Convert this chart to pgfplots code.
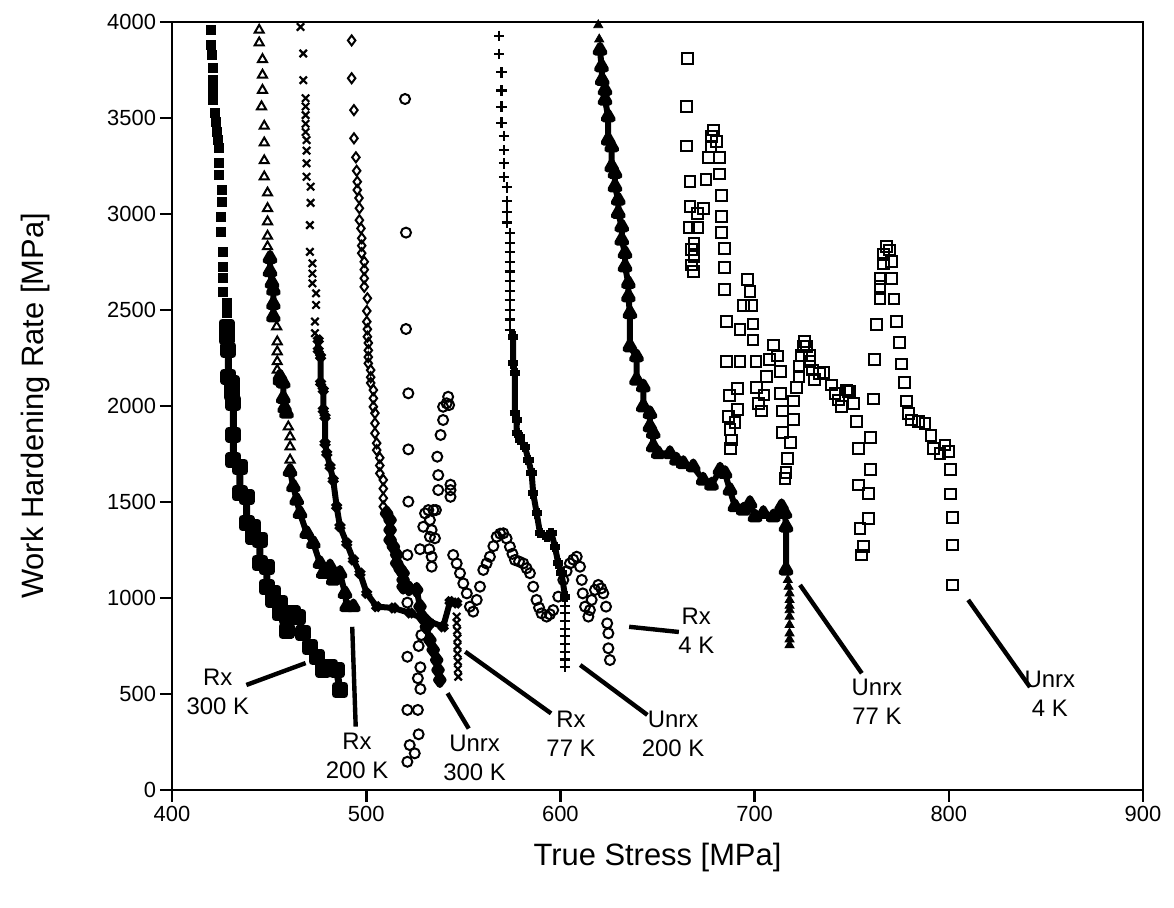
\documentclass[border=0pt]{standalone}
\usepackage{fontspec}
\setmainfont{Liberation Sans}
\usepackage{pgfplots}
\pgfplotsset{compat=1.18}
\begin{document}
\begin{tikzpicture}
\useasboundingbox (-86bp,-59bp) rectangle (501bp,395bp);
\begin{axis}[
  at={(0,0)}, anchor=south west,
  scale only axis, width=485.5bp, height=384bp,
  xmin=400, xmax=900, ymin=0, ymax=4000,
  xtick={400,500,...,900}, ytick={0,500,...,4000},
  tick align=outside, xtick pos=left, ytick pos=left,
  major tick length=6bp,
  axis line style={line width=1.3bp},
  every tick/.style={black, line width=1.3bp},
  tick label style={font=\fontsize{11}{13}\selectfont},
  yticklabel style={xshift=1.5bp},
  xticklabel style={yshift=1.5bp},
  /pgf/number format/assume math mode=true,
  /pgf/number format/1000 sep={},
  xlabel={True Stress [MPa]}, ylabel={Work Hardening Rate [MPa]},
  label style={font=\fontsize{15.5}{18}\selectfont},
  xlabel style={at={(axis description cs:0.5,-0.0885)}, anchor=center},
  ylabel style={at={(axis description cs:-0.141,0.5)}, anchor=center},
  unbounded coords=jump,
]
% ---------- Rx 300 K : filled squares
\addplot[only marks, mark=square*, mark size=2.25bp, black] coordinates {
(419.9,3961)(419.9,3880)(420.4,3828)(421,3760)(421.2,3697)(421.3,3645)(421.3,3593)(422,3525)(422.5,3480)(423,3430)(423.7,3385)(424.3,3343)(424.3,3265)(424.3,3203)(425.6,3125)(425.6,3064)(425.2,2986)(425.2,2908)(426.4,2803)(426.4,2725)(426.4,2666)(426.4,2595)(428.1,2535)(428.1,2483)};
\addplot[black, line width=3.5bp, line join=round, mark=square*, mark size=2.25bp] coordinates {
(428.1,2413)(428.1,2361)(429,2291)(429,2152)(430.7,2120)(430.7,2068)(431.6,2015)(431.6,1850)(431.6,1718)(435,1682)(435,1546)(438.4,1526)(438.4,1390)(441.9,1370)(441.9,1318)(445.3,1302)(445.3,1182)(448.8,1161)(448.8,1057)(452.2,1026)(452.2,990)(455.6,974)(455.6,922)(459,900)(459,830)(462.5,920)(465,900)(467.6,818)(471,745)(474.5,693)(477.9,625)(481.4,641)(484.8,625)(486.5,521)};
% ---------- Rx 200 K : triangles
\addplot[only marks, mark=triangle, mark size=2.6bp, line width=1bp, black] coordinates {
(444.9,3958)(444.9,3892)(446.6,3805)(446.6,3724)(446.6,3645)(446.1,3559)(447.5,3458)(447.5,3371)(447.5,3278)(447.5,3194)(449.2,3110)(449.2,3029)(449.2,2960)(449.2,2885)(449.2,2830)
(453.9,2413)(454.2,2335)(454.2,2283)(454.2,2231)(454.2,2187)
(459.9,1892)(460.8,1840)(460.8,1788)(460.8,1719)};
\addplot[black, line width=3bp, line join=round, mark=triangle*, mark size=2.6bp] coordinates {
(450.5,2770)(450.5,2700)(451.5,2640)(452.2,2604)(452.2,2530)(452.2,2465)
(453,nan)
(455.6,2152)(455.6,2135)(457.3,2120)(457.3,2040)(458,1990)(459,1963)
(460,nan)
(460.8,1660)(462.5,1580)(464.2,1510)(465.9,1441)(469.4,1337)(472.8,1285)(476.2,1181)(477.9,1129)(481.4,1163)(483,1094)(486.5,1129)(489.1,1024)(490,955)(493.4,955)};
% ---------- Rx 77 K : crosses
\addplot[only marks, mark=x, mark size=2.6bp, line width=1.1bp, black] coordinates {
(466.2,3974)(467.6,3836)(467.6,3697)(468.8,3603)(468.8,3560)(468.8,3515)(468.8,3470)(468.8,3427)(469.3,3385)(469.3,3330)(469.3,3264)(469.3,3194)(471.4,3142)(471.4,3058)(471,2942)(471,2803)(472.3,2743)(472.3,2690)(472.3,2639)(474.2,2587)(474.2,2526)(473.6,2440)(473.6,2379)
(546.6,903)(546.6,870)(546.8,830)(547,790)(547,750)(547,710)(547.2,670)(547.2,630)(547.4,590)};
\addplot[black, line width=3bp, line join=round, mark=x, mark size=2.6bp] coordinates {
(475.3,2344)(475.3,2291)(476.5,2257)(476.5,2120)(477.9,2083)(477.9,1979)(478.8,1944)(478.8,1806)(479.7,1753)(481.4,1684)(483,1615)(484.8,1476)(486.5,1372)(490,1285)(493.4,1198)(496.8,1129)(500.3,1024)(505.4,955)(514,948)(522.6,922)(531,885)(539.6,850)(543.2,981)(546.6,974)};
% ---------- Unrx 300 K : diamonds
\addplot[only marks, mark=diamond, mark size=2.5bp, line width=1bp, black] coordinates {
(492.5,3904)(492.5,3707)(493.7,3541)(493.7,3394)(494.7,3295)(495.1,3225)(495.4,3168)(495.4,3125)(496.3,3083)(496.5,3030)(496.5,2968)(497.3,2925)(497.7,2874)(497.7,2835)(497.7,2796)(499,2751)(499,2710)(499,2665)(499,2621)(500.6,2561)(500.3,2495)(500.3,2439)(500.6,2400)(500.6,2361)(501.1,2328)(501.1,2290)(501.1,2255)(501.1,2222)(502.3,2187)(502.3,2150)(502.3,2120)(503.7,2083)(503.7,2040)(503.7,1996)(504.5,1963)(504.5,1910)(504.5,1858)(505.4,1806)(505.4,1770)(507,1730)(507,1690)(507,1649)(508.8,1615)(508.8,1570)(508.8,1520)(508.8,1476)(510.5,1440)};
\addplot[black, line width=3bp, line join=round, mark=diamond, mark size=2.5bp] coordinates {
(510.5,1440)(512.3,1406)(512.3,1354)(512.3,1302)(514,1267)(515.7,1225)(515.7,1181)(517.5,1150)(519,1129)(519,1094)(519,1059)(522,1050)(526,1042)(527.7,955)(529,900)(531,850)(532.8,781)(534.5,730)(536.3,677)(537,625)(537.9,573)};
% ---------- Rx 4 K : circles
\addplot[only marks, mark=o, mark size=2.5bp, line width=1bp, black] coordinates {
(520,3599)(520.5,2903)(520.5,2401)(521.7,2066)(521.7,1774)(521.7,1502)(521.2,1224)(521.2,976)(532.5,868)(528.4,807)(527,750)(521.2,694)(527.9,639)(526.6,582)(527.9,526)(521.2,417)(526.6,417)(527,290)(522.4,234)(525,191)(521.2,147)
(527.7,1254)(529.4,1371)(530.3,1441)(532,1458)(534.6,1458)(532.8,1406)(533.7,1354)(532.8,1319)(532.5,1254)(533.7,1215)(533.7,1163)(535.4,1311)(535.9,1458)(537.1,1562)(537.1,1640)(536.6,1736)(538.3,1849)(539.6,1927)(539.6,1996)(541.4,2014)(542.2,2048)(542.7,2005)(543.4,1590)(543.4,1562)(543.4,1527)
(544.8,1224)(546.6,1180)(548.3,1129)(550,1076)(551.8,1024)(553.4,955)(555.1,929)(556.9,990)(558.6,1059)(560.3,1146)(562,1180)(563.7,1215)(565.5,1270)(567.2,1319)(569,1335)(570.6,1337)(572.3,1310)(574,1267)(575.3,1230)(576.6,1198)(578.7,1190)(580.9,1180)(582.6,1155)(584.3,1129)(586,1059)(587.7,990)(589,950)(590.3,920)(592.9,903)(594.6,915)(596.3,937)(598.9,1007)(601.5,1094)(603.2,1140)(604.9,1180)(606.6,1200)(608.4,1215)(610.1,1163)(611,1094)(611.5,1024)(612.7,955)(614.4,903)(615.2,937)(616.1,990)(617.8,1042)(619.5,1068)(621,1050)(622.1,1024)(623.5,955)(624.1,868)(624.7,816)(624.7,738)(625.5,677)};
% ---------- Unrx 200 K : plus
\addplot[only marks, mark=+, mark size=2.6bp, line width=1.1bp, black] coordinates {
(568.5,3928)(568.5,3833)(569.7,3738)(569.7,3643)(569.7,3559)(569.7,3476)(571,3406)(571,3333)(571,3264)(571,3194)(572.6,3139)(572.6,3068)(572.6,3012)(572.6,2956)(574,2900)(574,2850)(574,2800)(574,2750)(574,2700)(574,2650)(574,2600)(574,2552)(574,2500)(574,2450)(574,2396)
(602.4,960)(602.4,920)(602.4,880)(602.4,840)(602.4,800)(602.4,760)(602.4,720)(602.4,680)(602.4,641)};
\addplot[black, line width=3bp, line join=round, mark=+, mark size=2.6bp] coordinates {
(575.7,2361)(575.7,2222)(576.6,2170)(576.6,1961)(577.5,1927)(577.5,1858)(579.2,1840)(579.2,1823)(581.8,1788)(583.5,1719)(585.2,1649)(586,1545)(587.8,1441)(589.5,1337)(593,1319)(595.4,1337)(597.2,1267)(598.9,1180)(600.6,1129)(602.4,1007)};
% ---------- Unrx 77 K : filled triangles
\addplot[only marks, mark=triangle*, mark size=2.6bp, black] coordinates {
(619.5,3984)(620,3910)
(717.1,1094)(717.5,1059)(718,1024)(718,990)(718,960)(718,937)(718,903)(718,860)(718,816)(718,785)(718,755)};
\addplot[black, line width=3bp, line join=round, mark=triangle*, mark size=2.6bp] coordinates {
(620.4,3854)(621.2,3767)(621.5,3697)(623,3645)(623,3594)(624.6,3507)(624.6,3385)(626.4,3350)(626.4,3246)(628.1,3212)(628.1,3142)(629.8,3073)(629.8,3004)(631.6,2934)(631.6,2864)(633.3,2795)(633.3,2725)(635,2639)(635,2569)(635.8,2482)(635.8,2309)(639.2,2257)(639.2,2135)(642.7,2100)(642.7,1996)(646.1,1961)(646.1,1892)(647.8,1858)(647.8,1788)(650.4,1753)(656.4,1753)(659.8,1719)(663.3,1701)(668.4,1684)(673.5,1615)(677.8,1589)(682.2,1667)(684.8,1649)(687.3,1562)(689.9,1476)(694.2,1458)(697.6,1493)(700.2,1423)(704.5,1441)(709.6,1423)(713.9,1476)(715.6,1441)(716.2,1370)(716.2,1146)};
% ---------- Unrx 4 K : open squares
\addplot[only marks, mark=square, mark size=2.7bp, line width=1bp, black] coordinates {
(665.5,3810)(665,3559)(665,3354)(666.7,3168)(666.7,3041)(670.6,3003)(673.5,3029)(666.2,2928)(670.6,2928)(668.8,2847)(667.6,2815)(668.8,2777)(667.6,2734)(668.4,2699)(675,3180)(676.2,3295)(677.5,3350)(677.9,3402)(678.7,3437)(680.4,3376)(681.8,3295)(681.8,3208)(683,3095)(683,2986)(683,2902)(684.4,2819)(684.4,2720)(684.4,2608)(685.6,2439)(685.6,2231)(692.5,2399)(692.5,2231)(691.1,2092)(687,2054)(691.1,1983)(686.6,1944)(689.9,1913)(687.3,1878)(688.2,1823)(687.7,1779)(699.2,2427)(699.2,2344)(694.1,2524)(698.5,2524)(696.2,2660)(697.6,2595)(700.7,2231)(706.2,2152)(701,2095)(704.8,2057)(701.9,2014)(703.6,1974)(709.6,2318)(711.7,2260)(707.6,2243)(713.4,2178)(713.4,2066)(714.4,1974)(714.2,1861)(718.5,1809)(716.8,1727)(716.2,1653)(715.6,1623)(720.2,1930)(720.2,2026)(721.6,2095)(722.9,2152)(722.9,2204)(724.2,2265)(725,2309)(726.7,2309)(725.5,2335)(728.2,2265)(728.5,2231)(729.9,2187)(731,2139)(733.6,2170)(735.3,2173)(739.6,2109)(741.4,2066)(743.1,2031)(744.8,1996)(747.4,2083)(748.2,2074)(749.1,2074)(750.8,2014)(752.6,1918)(753.4,1780)(753.4,1589)(754.3,1363)(756,1267)(755.1,1224)(758.5,1415)(758.5,1545)(759.7,1670)(759.7,1835)(761.4,2036)(761.6,2243)(762.8,2425)(764.6,2557)(764.6,2621)(764.6,2665)(766.3,2743)(766.3,2791)(768,2830)(769.4,2812)(770.6,2751)(770.6,2665)(771.8,2557)(773.2,2439)(774.6,2330)(775.7,2219)(777.1,2121)(778.3,2026)(779.1,1962)(780.8,1927)(784.2,1918)(787.7,1909)(790.8,1845)(792.3,1780)(795.5,1754)(798,1797)(799.8,1762)(801,1670)(801,1542)(802,1418)(802,1276)(802,1068)};
% ---------- annotations
\begin{scope}[every node/.style={font=\fontsize{12}{14.5}\selectfont, align=center, inner sep=0pt}]
\node at (axis cs:423.6,512) {Rx\\300 K};
\node at (axis cs:495.3,177) {Rx\\200 K};
\node at (axis cs:555.8,167) {Unrx\\300 K};
\node at (axis cs:605.5,292) {Rx\\77 K};
\node at (axis cs:658,292) {Unrx\\200 K};
\node at (axis cs:670,828) {Rx\\4 K};
\node at (axis cs:763,458) {Unrx\\77 K};
\node at (axis cs:852,500) {Unrx\\4 K};
\end{scope}
\begin{scope}[line width=2.2bp]
\draw (axis cs:438.3,547) -- (axis cs:468.8,661);
\draw (axis cs:492.8,850) -- (axis cs:494.6,330);
\draw (axis cs:541.9,504) -- (axis cs:552.8,320);
\draw (axis cs:551,720) -- (axis cs:595.2,399);
\draw (axis cs:610.2,651) -- (axis cs:644.8,391);
\draw (axis cs:635.4,850) -- (axis cs:661,823);
\draw (axis cs:723.4,1068) -- (axis cs:755.2,608);
\draw (axis cs:810,990) -- (axis cs:841.8,536);
\end{scope}
\end{axis}
\end{tikzpicture}
\end{document}
